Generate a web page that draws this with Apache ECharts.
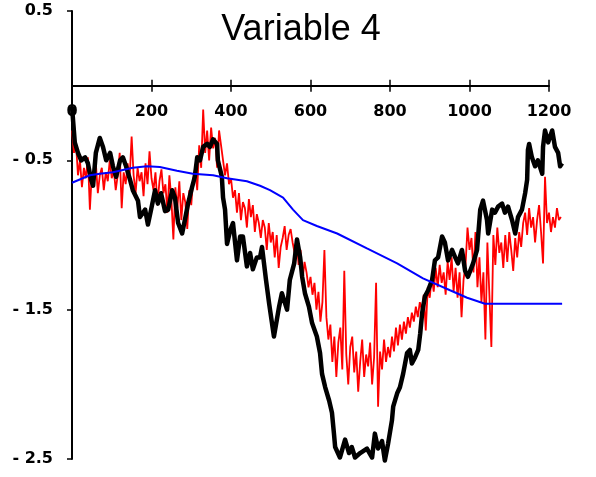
<!DOCTYPE html>
<html>
<head>
<meta charset="utf-8">
<script src="https://cdn.jsdelivr.net/npm/echarts@6/dist/echarts.min.js"></script>
<style>
html,body{margin:0;padding:0;background:#fff;}
#c{width:596px;height:477px;}
</style>
</head>
<body>
<div id="c"></div>
<script>
var xTicks = [0, 200, 400, 600, 800, 1000, 1200];
var yTicks = [0.5, -0.5, -1.5, -2.5];

var blueX = [0, 45, 70, 103, 153, 189, 221, 264, 304, 355, 390, 440, 473, 498, 531, 556, 581, 616, 667, 742, 818, 883, 951, 994, 1039, 1069, 1233];
var blueY = [-0.65, -0.6, -0.59, -0.58, -0.55, -0.54, -0.545, -0.57, -0.59, -0.6, -0.62, -0.64, -0.67, -0.70, -0.75, -0.83, -0.9, -0.94, -0.99, -1.09, -1.19, -1.29, -1.37, -1.42, -1.46, -1.46, -1.46];

var blackX = [0, 7, 15, 23, 33, 40, 48, 53, 60, 70, 78, 86, 96, 103, 111, 121, 128, 136, 146, 153, 166, 171, 184, 191, 199, 209, 216, 224, 234, 242, 252, 259, 267, 277, 284, 292, 302, 309, 315, 322, 330, 340, 347, 355, 365, 367, 377, 380, 385, 390, 398, 405, 415, 423, 430, 440, 448, 455, 465, 473, 478, 488, 496, 508, 521, 528, 541, 548, 559, 566, 574, 579, 586, 596, 604, 616, 624, 629, 637, 647, 654, 659, 662, 674, 687, 697, 704, 712, 725, 742, 755, 762, 770, 780, 787, 795, 805, 808, 818, 825, 833, 843, 850, 855, 863, 871, 876, 881, 888, 896, 906, 913, 921, 931, 938, 946, 956, 964, 971, 981, 989, 996, 1009, 1019, 1027, 1034, 1044, 1047, 1057, 1064, 1072, 1082, 1089, 1097, 1107, 1115, 1122, 1132, 1140, 1145, 1147, 1150, 1157, 1165, 1172, 1183, 1185, 1190, 1198, 1208, 1215, 1223, 1228, 1233];
var blackY = [-0.14, -0.38, -0.45, -0.50, -0.48, -0.52, -0.63, -0.67, -0.45, -0.35, -0.41, -0.50, -0.45, -0.54, -0.61, -0.50, -0.48, -0.54, -0.63, -0.70, -0.77, -0.88, -0.83, -0.93, -0.83, -0.70, -0.79, -0.72, -0.84, -0.83, -0.70, -0.75, -0.92, -0.99, -0.90, -0.79, -0.68, -0.61, -0.48, -0.50, -0.41, -0.39, -0.41, -0.36, -0.39, -0.50, -0.61, -0.75, -0.83, -1.06, -0.97, -0.92, -1.17, -1.01, -1.01, -1.21, -1.12, -1.23, -1.15, -1.15, -1.08, -1.30, -1.46, -1.68, -1.48, -1.39, -1.50, -1.30, -1.19, -1.03, -1.15, -1.28, -1.39, -1.48, -1.59, -1.68, -1.79, -1.93, -2.02, -2.11, -2.19, -2.33, -2.42, -2.49, -2.37, -2.46, -2.42, -2.49, -2.46, -2.43, -2.49, -2.33, -2.43, -2.38, -2.51, -2.40, -2.24, -2.15, -2.06, -2.02, -1.93, -1.79, -1.77, -1.86, -1.82, -1.77, -1.66, -1.52, -1.41, -1.37, -1.30, -1.17, -1.15, -1.01, -1.05, -1.17, -1.10, -1.15, -1.19, -1.10, -1.24, -1.28, -1.19, -1.10, -0.83, -0.77, -0.90, -0.99, -0.83, -0.85, -0.81, -0.79, -0.85, -0.81, -0.90, -0.99, -0.88, -0.83, -0.72, -0.63, -0.43, -0.39, -0.48, -0.54, -0.50, -0.59, -0.41, -0.30, -0.38, -0.30, -0.41, -0.45, -0.54, -0.52];

// red series sampled every 5 units of x, starting at 0
var redStep = 5;
var redY = [
-0.30, -0.45, -0.38, -0.60, -0.50, -0.68, -0.55, -0.62, -0.48, -0.83,
-0.58, -0.66, -0.52, -0.72, -0.60, -0.55, -0.70, -0.58, -0.64, -0.50,
-0.62, -0.56, -0.70, -0.60, -0.45, -0.82, -0.58, -0.66, -0.52, -0.62,
-0.34, -0.60, -0.72, -0.55, -0.64, -0.58, -0.74, -0.52, -0.66, -0.44,
-0.62, -0.70, -0.58, -0.80, -0.64, -0.56, -0.72, -0.66, -0.85, -0.60,
-0.76, -1.03, -0.68, -0.82, -0.64, -0.90, -0.72, -0.78, -0.96, -0.70,
-0.80, -0.62, -0.55, -0.70, -0.40, -0.55, -0.16, -0.45, -0.30, -0.50,
-0.28, -0.42, -0.35, -0.55, -0.30, -0.40, -0.50, -0.60, -0.52, -0.66,
-0.62, -0.75, -0.70, -0.85, -0.72, -0.90, -0.78, -0.82, -0.95, -0.76,
-0.88, -0.80, -0.98, -0.86, -0.92, -1.02, -0.90, -0.95, -1.10, -0.92,
-1.05, -0.98, -1.15, -1.00, -1.22, -1.08, -1.02, -0.94, -1.10, -1.00,
-0.96, -1.05, -1.12, -1.02, -1.20, -1.10, -1.30, -1.18, -1.25, -1.35,
-1.28, -1.40, -1.32, -1.50, -1.38, -1.58, -1.45, -1.10, -1.55, -1.70,
-1.60, -1.85, -1.68, -1.95, -1.72, -1.62, -1.90, -1.24, -1.80, -2.00,
-1.75, -1.68, -1.92, -1.78, -2.05, -1.85, -1.70, -1.95, -1.80, -1.88,
-1.72, -2.00, -1.82, -1.32, -2.15, -1.78, -1.90, -1.70, -1.85, -1.75,
-1.82, -1.68, -1.78, -1.62, -1.74, -1.60, -1.70, -1.58, -1.66, -1.55,
-1.62, -1.52, -1.58, -1.48, -1.55, -1.45, -1.50, -1.40, -1.64, -1.35,
-1.42, -1.28, -1.38, -1.22, -1.35, -1.20, -1.32, -1.25, -1.40, -1.18,
-1.30, -1.15, -1.38, -1.22, -1.42, -1.25, -1.55, -1.30, -1.20, -0.95,
-1.10, -1.02, -1.25, -0.98, -1.35, -1.15, -1.45, -1.25, -1.70, -1.05,
-1.40, -1.75, -1.00, -1.20, -0.95, -1.12, -1.05, -1.22, -1.00, -1.18,
-0.98, -1.10, -1.24, -1.02, -1.15, -0.98, -1.08, -0.92, -0.85, -1.00,
-0.82, -0.95, -0.88, -1.05, -0.90, -0.80, -0.98, -1.19, -0.61, -0.92,
-0.85, -0.98, -0.88, -0.95, -0.82, -0.90, -0.88
];

function pairs(xs, ys) { return xs.map(function (x, i) { return [x, ys[i]]; }); }
var redData = redY.map(function (v, i) { return [i * redStep, v]; });

var yMin = yTicks[yTicks.length - 1], yMax = yTicks[0];
var xMin = xTicks[0], xMax = xTicks[xTicks.length - 1];
var plotTop = 11, plotH = 448, plotLeft = 72, plotW = 477;
// the x axis sits where y = 0
var zeroH = plotH * (yMax - 0) / (yMax - yMin);
// the data runs a little past the last tick; give the (hidden) data axis room for it
var dataXMax = 1240;
var dataW = plotW * (dataXMax - xMin) / (xMax - xMin);

var chart = echarts.init(document.getElementById('c'), null, {renderer: 'canvas'});
var labelFont = {fontFamily: 'DejaVu Sans', fontWeight: 'bold', fontSize: 16, color: '#000'};
var hiddenY = {type: 'value', show: false, min: 0, max: 1};
chart.setOption({
  animation: false,
  backgroundColor: '#fff',
  graphic: [{
    type: 'text', x: 301, y: 12,
    style: {text: 'Variable 4', font: '36px "Liberation Sans", Arial, sans-serif', fill: '#000', align: 'center', verticalAlign: 'top'}
  }],
  grid: [
    {left: plotLeft, top: plotTop, width: dataW, height: plotH, containLabel: false, outerBoundsMode: 'none'},
    {left: plotLeft, top: plotTop, width: plotW, height: zeroH, containLabel: false, outerBoundsMode: 'none'},
    {left: plotLeft, top: plotTop, width: plotW, height: zeroH, containLabel: false, outerBoundsMode: 'none'}
  ],
  xAxis: [{
    gridIndex: 0, type: 'value', min: xMin, max: dataXMax, show: false
  }, {
    gridIndex: 1, type: 'value', min: xMin, max: xMax, interval: 200, position: 'bottom',
    axisLine: {show: true, onZero: false, lineStyle: {color: '#000', width: 2}},
    axisTick: {show: true, length: 6, inside: false, lineStyle: {color: '#000', width: 1.5}},
    axisLabel: Object.assign({margin: 18, formatter: function (v) { return String(v); }}, labelFont),
    splitLine: {show: false}
  }, {
    gridIndex: 2, type: 'value', min: xMin, max: xMax, interval: 200, position: 'bottom',
    axisLine: {show: false, onZero: false},
    axisTick: {show: true, length: 6, inside: true, lineStyle: {color: '#000', width: 1.5}},
    axisLabel: {show: false},
    splitLine: {show: false}
  }],
  yAxis: [{
    gridIndex: 0, type: 'value', min: yMin, max: yMax, interval: 1,
    axisLine: {show: true, onZero: false, lineStyle: {color: '#000', width: 2}},
    axisTick: {show: true, length: 5, inside: false, lineStyle: {color: '#000', width: 1.5}},
    axisLabel: Object.assign({margin: 19, formatter: function (v) {
      return v < 0 ? '- ' + Math.abs(v).toFixed(1) : v.toFixed(1);
    }}, labelFont),
    splitLine: {show: false}
  },
  Object.assign({gridIndex: 1}, hiddenY),
  Object.assign({gridIndex: 2}, hiddenY)],
  series: [
    {type: 'line', xAxisIndex: 0, yAxisIndex: 0, data: redData, showSymbol: false, clip: false, z: 2,
     lineStyle: {color: '#ff0000', width: 1.8}},
    {type: 'line', xAxisIndex: 0, yAxisIndex: 0, data: pairs(blackX, blackY), showSymbol: false, clip: false, z: 3,
     lineStyle: {color: '#000', width: 4.5, join: 'round', cap: 'butt'}},
    {type: 'line', xAxisIndex: 0, yAxisIndex: 0, data: pairs(blueX, blueY), showSymbol: false, clip: false, z: 4,
     lineStyle: {color: '#0000ff', width: 2}}
  ]
});
</script>
</body>
</html>
